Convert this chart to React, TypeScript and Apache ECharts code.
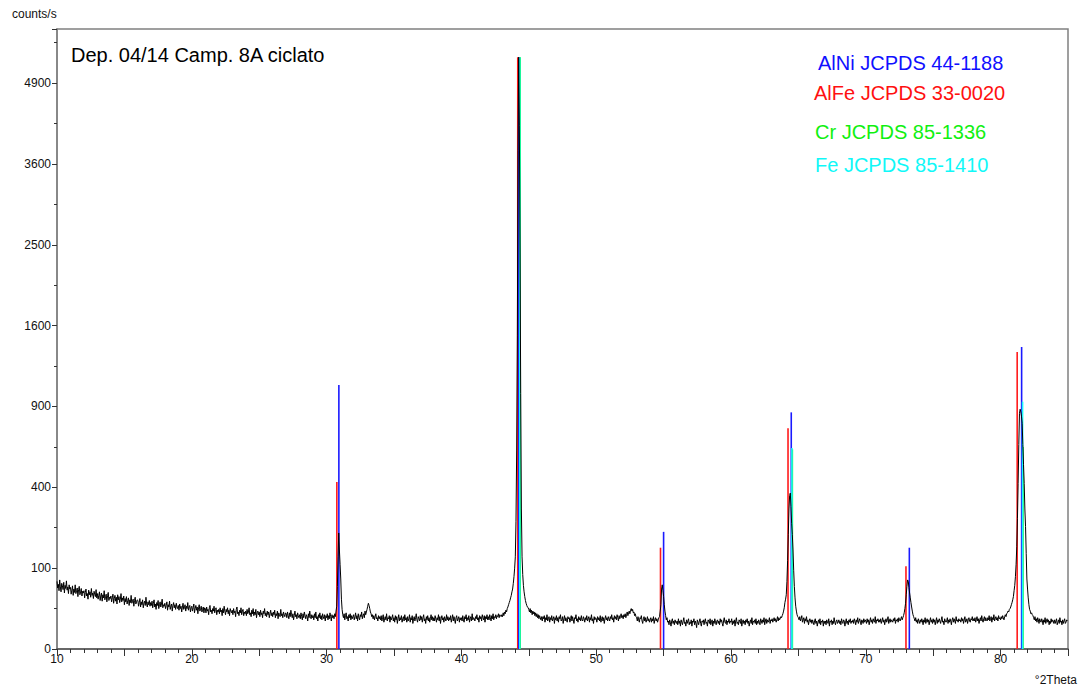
import React, { useEffect, useRef } from "react";
import * as echarts from "echarts";

// Diffractogram: one row per degree (°2Theta), 20 readings per row, 0.05° apart (counts/s)
const rowStep = 0.05;

const counts10s = [
  [70, 57, 64, 52, 73, 59, 50, 66, 61, 54, 68, 48, 62, 56, 71, 53, 59, 47, 63, 55],
  [58, 46, 53, 61, 44, 55, 49, 63, 47, 52, 57, 42, 54, 60, 45, 50, 56, 43, 51, 48],
  [52, 40, 49, 55, 43, 47, 38, 53, 45, 50, 41, 56, 44, 48, 39, 51, 46, 42, 54, 40],
  [47, 38, 44, 50, 36, 43, 48, 35, 45, 40, 52, 37, 42, 46, 34, 44, 49, 36, 41, 39],
  [43, 34, 40, 46, 32, 39, 44, 35, 41, 31, 45, 37, 42, 33, 38, 47, 34, 40, 36, 43],
  [30, 39, 34, 42, 31, 36, 40, 29, 37, 33, 44, 32, 35, 38, 28, 36, 41, 31, 34, 37],
  [36, 28, 33, 39, 27, 34, 30, 37, 26, 32, 35, 29, 41, 31, 27, 34, 30, 36, 28, 33],
  [29, 35, 26, 32, 37, 27, 31, 24, 33, 29, 36, 25, 30, 34, 27, 31, 38, 26, 30, 28],
  [32, 25, 29, 34, 23, 30, 27, 35, 24, 28, 31, 22, 29, 33, 26, 30, 24, 32, 27, 25],
  [29, 23, 31, 25, 28, 21, 27, 32, 24, 26, 30, 22, 28, 25, 33, 23, 27, 29, 21, 26],
];
const counts20s = [
  [28, 22, 26, 31, 20, 25, 29, 23, 27, 19, 26, 30, 22, 25, 28, 21, 24, 27, 20, 26],
  [25, 20, 27, 22, 24, 18, 26, 29, 21, 23, 19, 25, 22, 28, 20, 24, 26, 18, 23, 21],
  [24, 19, 26, 21, 23, 17, 25, 20, 28, 22, 18, 24, 21, 26, 19, 23, 17, 25, 22, 20],
  [23, 18, 25, 20, 22, 16, 24, 27, 19, 21, 17, 23, 20, 26, 18, 22, 24, 17, 21, 19],
  [22, 17, 24, 19, 21, 26, 18, 20, 16, 23, 19, 25, 17, 21, 18, 24, 15, 20, 22, 18],
  [21, 16, 23, 18, 20, 15, 22, 19, 25, 17, 20, 16, 22, 18, 21, 15, 19, 23, 17, 20],
  [16, 21, 18, 23, 15, 19, 17, 22, 14, 20, 18, 16, 24, 17, 19, 15, 21, 18, 16, 20],
  [19, 15, 21, 17, 14, 20, 16, 23, 18, 15, 19, 13, 17, 22, 16, 18, 14, 20, 17, 15],
  [18, 14, 20, 16, 13, 19, 15, 21, 17, 14, 18, 16, 12, 19, 15, 22, 16, 14, 18, 15],
  [17, 13, 19, 15, 21, 14, 16, 12, 18, 15, 20, 14, 17, 13, 19, 16, 14, 18, 12, 17],
];
const counts30s = [
  [15, 19, 13, 17, 14, 20, 16, 12, 18, 15, 17, 14, 19, 16, 22, 28, 60, 130, 206, 150],
  [110, 75, 38, 24, 18, 15, 19, 13, 17, 20, 14, 16, 12, 18, 15, 19, 13, 17, 14, 16],
  [18, 13, 16, 20, 14, 17, 12, 19, 15, 13, 18, 16, 21, 14, 17, 19, 15, 22, 18, 21],
  [24, 28, 32, 29, 25, 21, 19, 16, 18, 14, 17, 13, 16, 19, 14, 15, 12, 17, 14, 16],
  [13, 17, 12, 15, 18, 11, 14, 16, 13, 19, 12, 15, 14, 17, 11, 16, 13, 15, 18, 12],
  [15, 11, 17, 13, 16, 10, 14, 18, 12, 15, 13, 17, 11, 14, 16, 12, 18, 13, 15, 11],
  [16, 12, 14, 18, 11, 15, 13, 17, 10, 14, 16, 12, 15, 19, 13, 11, 16, 14, 12, 17],
  [13, 16, 11, 15, 18, 12, 14, 10, 16, 13, 17, 12, 15, 11, 14, 18, 13, 16, 12, 15],
  [12, 17, 14, 11, 15, 13, 18, 12, 16, 10, 14, 17, 13, 15, 11, 16, 14, 12, 18, 13],
  [16, 12, 15, 13, 17, 11, 14, 18, 12, 16, 13, 10, 15, 17, 12, 14, 16, 11, 15, 13],
];
const counts40s = [
  [15, 12, 17, 13, 11, 16, 14, 18, 12, 15, 13, 17, 11, 14, 16, 12, 19, 13, 15, 14],
  [12, 16, 14, 18, 13, 15, 11, 17, 14, 16, 12, 18, 15, 13, 17, 11, 16, 14, 18, 13],
  [16, 13, 18, 15, 12, 17, 14, 19, 13, 16, 15, 18, 14, 17, 16, 19, 15, 18, 17, 16],
  [18, 16, 20, 17, 21, 19, 23, 21, 25, 27, 30, 33, 36, 40, 44, 50, 55, 66, 80, 100],
  [130, 250, 600, 1500, 3800, 5360, 4200, 2400, 1000, 300, 130, 85, 62, 50, 42, 36, 32, 29, 27, 26],
  [24, 21, 25, 20, 23, 18, 22, 19, 21, 17, 20, 16, 19, 15, 18, 14, 17, 15, 13, 16],
  [12, 16, 14, 17, 11, 15, 13, 18, 12, 14, 16, 11, 15, 13, 17, 12, 14, 16, 10, 15],
  [13, 17, 12, 15, 11, 16, 14, 18, 12, 13, 16, 10, 14, 17, 12, 15, 13, 11, 16, 14],
  [15, 11, 14, 17, 12, 16, 13, 10, 15, 14, 18, 12, 14, 11, 16, 13, 15, 12, 17, 13],
  [12, 16, 14, 11, 15, 13, 17, 12, 14, 16, 11, 15, 13, 18, 12, 14, 10, 16, 13, 15],
];
const counts50s = [
  [14, 11, 16, 13, 15, 12, 17, 11, 14, 16, 12, 15, 10, 14, 17, 13, 15, 12, 16, 14],
  [12, 16, 14, 18, 13, 15, 11, 17, 14, 16, 13, 18, 15, 12, 17, 14, 16, 19, 15, 17],
  [14, 18, 16, 19, 15, 18, 21, 17, 20, 22, 19, 23, 25, 22, 24, 20, 21, 17, 19, 16],
  [15, 12, 16, 13, 11, 15, 14, 17, 12, 10, 14, 16, 12, 15, 11, 13, 16, 12, 14, 11],
  [13, 15, 11, 14, 12, 16, 10, 13, 15, 12, 14, 11, 13, 15, 16, 22, 30, 55, 63, 52],
  [42, 30, 22, 17, 13, 15, 11, 12, 9, 13, 11, 8, 12, 14, 10, 12, 9, 13, 11, 10],
  [12, 9, 14, 10, 12, 8, 13, 11, 9, 12, 15, 10, 11, 8, 13, 10, 12, 14, 9, 11],
  [10, 13, 8, 12, 11, 14, 9, 12, 10, 7, 13, 11, 9, 12, 14, 10, 8, 12, 11, 13],
  [9, 12, 14, 10, 11, 8, 13, 12, 10, 14, 9, 11, 13, 8, 12, 10, 14, 11, 9, 12],
  [13, 10, 12, 9, 14, 11, 13, 10, 8, 12, 15, 11, 10, 13, 9, 12, 11, 14, 10, 12],
];
const counts60s = [
  [11, 14, 9, 12, 10, 13, 8, 12, 15, 10, 11, 9, 13, 12, 10, 14, 8, 11, 13, 10],
  [12, 9, 13, 11, 14, 10, 12, 8, 11, 13, 10, 15, 9, 12, 11, 13, 10, 14, 9, 12],
  [10, 13, 11, 9, 14, 12, 10, 13, 11, 15, 9, 12, 14, 10, 13, 11, 12, 15, 10, 13],
  [12, 14, 11, 13, 15, 12, 14, 11, 13, 16, 12, 15, 13, 14, 16, 15, 17, 19, 22, 26],
  [33, 38, 45, 70, 120, 200, 300, 360, 372, 310, 240, 200, 150, 95, 60, 40, 28, 22, 18, 16],
  [15, 13, 16, 12, 14, 17, 11, 13, 15, 10, 14, 12, 16, 11, 13, 9, 12, 14, 11, 13],
  [10, 13, 11, 9, 12, 14, 10, 12, 8, 11, 13, 10, 14, 9, 12, 11, 13, 8, 12, 10],
  [12, 9, 13, 11, 10, 14, 8, 12, 11, 13, 9, 12, 10, 15, 11, 9, 12, 13, 10, 11],
  [13, 10, 12, 9, 14, 11, 10, 13, 12, 8, 11, 14, 10, 12, 9, 13, 11, 14, 10, 12],
  [11, 13, 10, 14, 12, 9, 13, 11, 15, 10, 12, 14, 11, 9, 13, 12, 10, 14, 11, 13],
];
const counts70s = [
  [12, 10, 14, 11, 13, 9, 12, 15, 11, 13, 10, 14, 12, 11, 16, 10, 13, 12, 14, 11],
  [13, 11, 14, 10, 12, 15, 11, 13, 9, 12, 14, 11, 13, 16, 10, 12, 14, 11, 13, 12],
  [11, 14, 12, 15, 10, 13, 12, 14, 11, 15, 13, 12, 14, 16, 13, 15, 17, 20, 25, 32],
  [45, 60, 73, 70, 58, 48, 40, 33, 27, 22, 18, 16, 14, 12, 15, 11, 13, 10, 14, 12],
  [10, 13, 11, 14, 12, 9, 13, 11, 15, 10, 12, 14, 11, 13, 9, 12, 15, 11, 13, 10],
  [14, 11, 13, 9, 12, 15, 10, 13, 11, 14, 12, 10, 13, 16, 11, 12, 9, 14, 12, 11],
  [12, 15, 10, 13, 11, 14, 12, 9, 13, 15, 11, 14, 12, 10, 16, 12, 13, 11, 14, 12],
  [13, 11, 15, 12, 14, 10, 13, 16, 11, 12, 14, 10, 13, 15, 12, 11, 14, 13, 16, 12],
  [14, 12, 15, 11, 13, 16, 12, 14, 10, 13, 15, 12, 17, 13, 11, 14, 16, 12, 15, 13],
  [12, 15, 13, 17, 12, 14, 16, 11, 15, 13, 18, 12, 14, 16, 13, 15, 12, 17, 14, 15],
];
const counts80s = [
  [13, 16, 14, 17, 15, 13, 16, 18, 16, 19, 20, 22, 21, 24, 25, 27, 30, 33, 37, 42],
  [52, 62, 80, 110, 160, 260, 420, 640, 850, 880, 860, 830, 780, 640, 520, 420, 300, 230, 140, 75],
  [55, 40, 30, 24, 22, 19, 20, 18, 17, 15, 13, 16, 12, 14, 11, 15, 13, 10, 14, 12],
  [11, 14, 12, 9, 13, 11, 15, 10, 12, 14, 11, 13, 9, 12, 10, 14, 11, 13, 12, 10],
  [13, 10, 12, 14, 9, 11, 13, 10, 15, 11, 12, 9, 13, 10, 12, 14, 10, 11, 13, 12],
];

// JCPDS reference sticks (°2Theta, counts/s scaled)
const alNiPos = [30.91, 44.26, 55.0, 64.47, 73.23, 81.56];
const alNiInt = [1066, 5360, 210, 857, 157, 1395];
const alFePos = [30.76, 44.18, 54.77, 64.23, 72.98, 81.23];
const alFeInt = [427, 5360, 157, 745, 105, 1349];
const crPos = [44.36, 64.55, 81.66];
const crInt = [5360, 610, 625];
const fePos = [44.33, 64.52, 81.63];
const feInt = [5360, 618, 936];

const xTickLabels = [10, 20, 30, 40, 50, 60, 70, 80];
const yTickLabels = [0, 100, 400, 900, 1600, 2500, 3600, 4900];

const title = "Dep. 04/14 Camp. 8A ciclato";
const phaseLabels = [
  { text: "AlNi JCPDS 44-1188", color: "#1010ff" },
  { text: "AlFe JCPDS 33-0020", color: "#ff1010" },
  { text: "Cr JCPDS 85-1336", color: "#10f010" },
  { text: "Fe JCPDS 85-1410", color: "#10f8f8" },
];

const FONT = '"Liberation Sans", Arial, Helvetica, sans-serif';

export default function App() {
  const ref = useRef<HTMLDivElement>(null);

  useEffect(() => {
    if (!ref.current) return;
    const chart = echarts.init(ref.current, undefined, { renderer: "svg" });

    const rows = [
      ...counts10s,
      ...counts20s,
      ...counts30s,
      ...counts40s,
      ...counts50s,
      ...counts60s,
      ...counts70s,
      ...counts80s,
    ];
    const trace: number[][] = [];
    rows.forEach((row, r) => {
      row.forEach((c, j) => {
        trace.push([Math.round((10 + r + j * rowStep) * 100) / 100, Math.sqrt(c)]);
      });
    });

    const stick = (name: string, pos: number[], ints: number[], color: string, z: number) => ({
      type: "custom",
      name,
      z,
      data: pos.map((p, i) => [p, Math.sqrt(ints[i])]),
      renderItem: (_params: any, api: any) => {
        const top = api.coord([api.value(0), api.value(1)]);
        const base = api.coord([api.value(0), 0]);
        return {
          type: "line",
          shape: { x1: top[0], y1: top[1], x2: base[0], y2: base[1] },
          style: { stroke: color, lineWidth: 1.6 },
        };
      },
    });

    const labelY = [63, 93, 132, 165];
    const labelX = [818, 814, 815, 815];

    chart.setOption({
      animation: false,
      backgroundColor: "#ffffff",
      grid: {
        left: 57,
        right: 12,
        top: 29,
        bottom: 39,
        show: true,
        borderColor: "#808080",
        borderWidth: 1.5,
      },
      xAxis: {
        type: "value",
        min: 10,
        max: 85,
        interval: 5,
        axisLine: { show: true, lineStyle: { color: "#555", width: 1.5 } },
        axisTick: { show: true, length: 7, lineStyle: { color: "#333" } },
        minorTick: { show: true, splitNumber: 5, length: 4, lineStyle: { color: "#333" } },
        splitLine: { show: false },
        axisLabel: {
          margin: 4,
          color: "#111",
          fontSize: 12,
          fontFamily: FONT,
          formatter: (v: number) => (xTickLabels.includes(Math.round(v * 1000) / 1000) ? String(v) : ""),
        },
      },
      yAxis: {
        type: "value",
        min: 0,
        max: 76.7,
        interval: 10,
        axisLine: { show: true, lineStyle: { color: "#808080", width: 1.5 } },
        axisTick: { show: true, length: 5, lineStyle: { color: "#333" } },
        minorTick: { show: true, splitNumber: 2, length: 3, lineStyle: { color: "#333" } },
        splitLine: { show: false },
        axisLabel: {
          margin: 6,
          color: "#111",
          fontSize: 12,
          fontFamily: FONT,
          formatter: (v: number) => {
            const c = Math.round(v * v);
            return yTickLabels.includes(c) && Math.abs(v - Math.round(v)) < 1e-6 ? String(c) : "";
          },
        },
      },
      series: [
        stick("AlFe", alFePos, alFeInt, "#ff1a1a", 2),
        stick("AlNi", alNiPos, alNiInt, "#1a1aff", 2),
        stick("Cr", crPos, crInt, "#1af01a", 2),
        stick("Fe", fePos, feInt, "#1af8f8", 2),
        {
          type: "line",
          name: "pattern",
          z: 3,
          data: trace,
          showSymbol: false,
          symbol: "none",
          lineStyle: { color: "#000", width: 1 },
          silent: true,
        },
      ],
      graphic: [
        {
          type: "text",
          x: 12,
          y: 14,
          style: { text: "counts/s", fill: "#111", font: `12px ${FONT}`, textAlign: "left", textVerticalAlign: "middle" },
        },
        {
          type: "text",
          x: 1077,
          y: 680,
          style: { text: "°2Theta", fill: "#111", font: `12px ${FONT}`, textAlign: "right", textVerticalAlign: "middle" },
        },
        {
          type: "text",
          x: 71,
          y: 55,
          style: { text: title, fill: "#000", font: `20px ${FONT}`, textAlign: "left", textVerticalAlign: "middle" },
        },
        ...phaseLabels.map((p, i) => ({
          type: "text",
          x: labelX[i],
          y: labelY[i],
          style: { text: p.text, fill: p.color, font: `20px ${FONT}`, textAlign: "left", textVerticalAlign: "middle" },
        })),
      ],
    });

    return () => chart.dispose();
  }, []);

  return (
    <div
      ref={ref}
      style={{ position: "fixed", left: 0, top: 0, width: 1080, height: 688, background: "#fff" }}
    />
  );
}
